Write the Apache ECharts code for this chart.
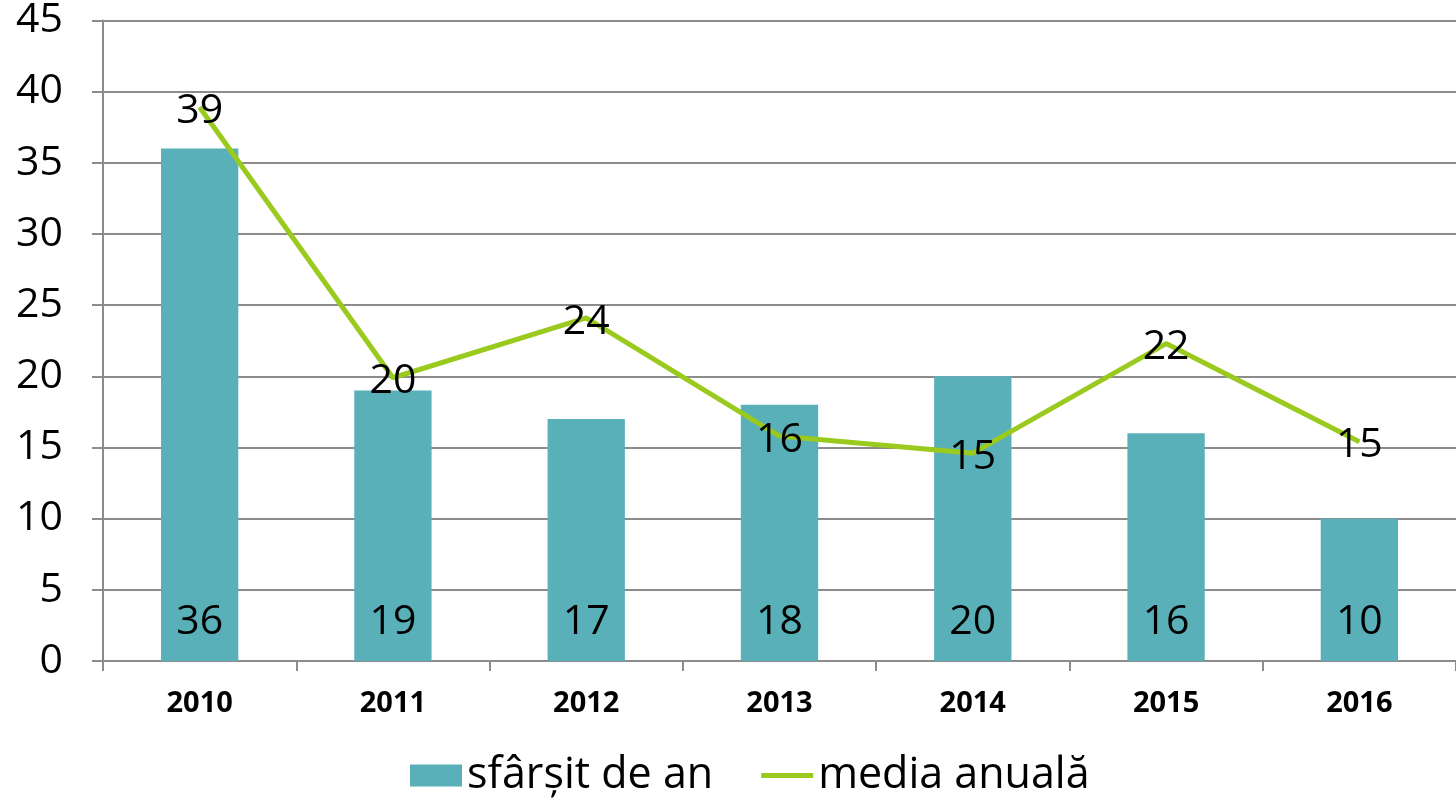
<!DOCTYPE html>
<html>
<head>
<meta charset="utf-8">
<script src="https://cdn.jsdelivr.net/npm/echarts@6/dist/echarts.min.js"></script>
<style>
  html, body { margin: 0; padding: 0; background: #fff; }
  #chart { width: 1456px; height: 808px; }
</style>
</head>
<body>
<div id="chart"></div>
<script>
var years = ['2010', '2011', '2012', '2013', '2014', '2015', '2016'];
var endOfYear = [36, 19, 17, 18, 20, 16, 10];
var annualAvg = [38.9, 19.9, 24.1, 15.8, 14.6, 22.3, 15.4];
var yTicks = [0, 5, 10, 15, 20, 25, 30, 35, 40, 45];

var font = '"Open Sans", sans-serif';
var gray = '#8c8c8c';

var chart = echarts.init(document.getElementById('chart'));

chart.setOption({
    animation: false,
    textStyle: { fontFamily: font },
    grid: { left: 103, right: 0, top: 20, bottom: 147 },
    legend: {
        bottom: 6,
        left: 405,
        itemWidth: 52,
        itemHeight: 22,
        itemGap: 48,
        textStyle: { fontSize: 43, color: '#000', fontFamily: font },
        data: [
            { name: 'sfârșit de an', icon: 'rect' },
            { name: 'media anuală', icon: 'path://M0,0 L52,0 L52,5 L0,5 Z' }
        ]
    },
    xAxis: {
        type: 'category',
        data: years,
        axisLine: { lineStyle: { color: gray, width: 2 } },
        axisTick: { show: true, length: 10, lineStyle: { color: gray, width: 2 } },
        axisLabel: { fontSize: 29, fontWeight: 'bold', color: '#000', margin: 28 }
    },
    yAxis: {
        type: 'value',
        min: yTicks[0],
        max: yTicks[yTicks.length - 1],
        interval: 5,
        axisLine: { show: true, lineStyle: { color: gray, width: 2 } },
        axisTick: { show: true, length: 11, lineStyle: { color: gray, width: 2 } },
        axisLabel: { fontSize: 41, color: '#000', margin: 40 },
        splitLine: { lineStyle: { color: gray, width: 2 } }
    },
    series: [
        {
            name: 'sfârșit de an',
            type: 'bar',
            data: endOfYear,
            barWidth: '40%',
            itemStyle: { color: '#5ab0b9' },
            label: {
                show: true,
                position: 'insideBottom',
                distance: 18,
                fontSize: 41,
                color: '#000'
            }
        },
        {
            name: 'media anuală',
            type: 'line',
            data: annualAvg,
            symbol: 'circle',
            symbolSize: 1,
            lineStyle: { color: '#9aca1e', width: 5 },
            itemStyle: { color: '#9aca1e' },
            label: {
                show: true,
                position: 'inside',
                offset: [0, 4],
                fontSize: 41,
                color: '#000',
                formatter: function (p) { return Math.round(p.value); }
            }
        }
    ]
});
</script>
</body>
</html>
